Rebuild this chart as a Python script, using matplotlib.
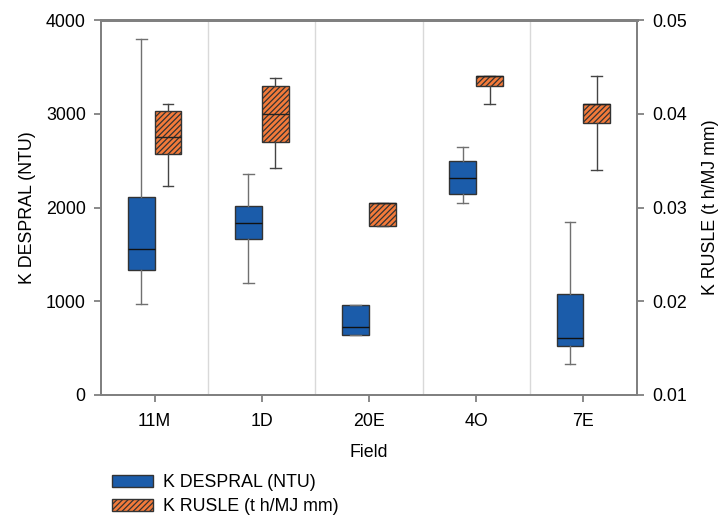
import matplotlib.pyplot as plt

plt.rcParams['font.family'] = ['Liberation Sans', 'DejaVu Sans']
plt.rcParams['hatch.linewidth'] = 0.9

fields = ["11M", "1D", "20E", "4O", "7E"]

# K DESPRAL (NTU), left axis
desp_whislo = [975, 1195, 637, 2050, 327]
desp_q1 = [1337, 1661, 637, 2141, 526]
desp_med = [1554, 1831, 722, 2311, 605]
desp_q3 = [2109, 2016, 957, 2499, 1074]
desp_whishi = [3794, 2361, 957, 2649, 1849]

# K RUSLE (t h/MJ mm), right axis
rusle_whislo = [0.0323, 0.0342, 0.0280, 0.0410, 0.0340]
rusle_q1 = [0.0357, 0.0370, 0.0280, 0.0430, 0.0390]
rusle_med = [0.0375, 0.0400, 0.0305, 0.0440, 0.0410]
rusle_q3 = [0.0403, 0.0430, 0.0305, 0.0440, 0.0410]
rusle_whishi = [0.0410, 0.0438, 0.0305, 0.0440, 0.0440]

blue = "#1B5CAA"
orange = "#F47A3A"
grey = "#808080"
fs = 12.8


def stats(lo, q1, med, q3, hi):
    return [dict(whislo=a, q1=b, med=c, q3=d, whishi=e, fliers=[])
            for a, b, c, d, e in zip(lo, q1, med, q3, hi)]


fig = plt.figure(figsize=(7.19, 5.16), dpi=100)
ax = fig.add_axes([0.1405, 0.2345, 0.7455, 0.7265])
ax2 = ax.twinx()

pos = list(range(len(fields)))
bw = 0.25

b1 = ax.bxp(stats(desp_whislo, desp_q1, desp_med, desp_q3, desp_whishi),
            positions=[p - bw / 2 for p in pos], widths=bw, capwidths=0.1,
            patch_artist=True, showfliers=False,
            boxprops=dict(facecolor=blue, edgecolor="#333333", linewidth=1),
            medianprops=dict(color="#111111", linewidth=1),
            whiskerprops=dict(color="#707070", linewidth=1),
            capprops=dict(color="#707070", linewidth=1))

b2 = ax2.bxp(stats(rusle_whislo, rusle_q1, rusle_med, rusle_q3, rusle_whishi),
             positions=[p + bw / 2 for p in pos], widths=bw, capwidths=0.1,
             patch_artist=True, showfliers=False,
             boxprops=dict(facecolor=orange, edgecolor="#333333",
                           linewidth=1, hatch="//////"),
             medianprops=dict(color="#222222", linewidth=1),
             whiskerprops=dict(color="#444444", linewidth=1),
             capprops=dict(color="#444444", linewidth=1))

ax.set_xlim(-0.5, len(fields) - 0.5)
ax.set_ylim(0, 4000)
ax2.set_ylim(0.01, 0.05)
ax.set_yticks([0, 1000, 2000, 3000, 4000])
ax2.set_yticks([0.01, 0.02, 0.03, 0.04, 0.05])
ax2.set_yticklabels(["0.01", "0.02", "0.03", "0.04", "0.05"])
ax.set_xticks(pos)
ax.set_xticklabels(fields)

for x in [p + 0.5 for p in pos[:-1]]:
    ax.axvline(x, color="#d9d9d9", linewidth=1, zorder=0)

for a in (ax, ax2):
    for s in a.spines.values():
        s.set_color(grey)
        s.set_linewidth(1.3)
    a.spines["top"].set_linewidth(2)
    a.tick_params(colors=grey, labelcolor="black", labelsize=fs,
                  width=1.3, length=5, pad=6)
ax.tick_params(axis="x", pad=8)

ax.set_xlabel("Field", fontsize=fs, labelpad=10)
ax.set_ylabel("K DESPRAL (NTU)", fontsize=fs, labelpad=7)
ax2.set_ylabel("K RUSLE (t h/MJ mm)", fontsize=fs, labelpad=11)

fig.legend([b1["boxes"][0], b2["boxes"][0]],
           ["K DESPRAL (NTU)", "K RUSLE (t h/MJ mm)"],
           loc="upper left", bbox_to_anchor=(112 / 719, 1 - 474 / 516),
           frameon=False, borderpad=0, borderaxespad=0,
           fontsize=fs, handlelength=2.3, handleheight=0.62,
           labelspacing=0.42, handletextpad=0.56)

fig.savefig("out.png", dpi=100)
